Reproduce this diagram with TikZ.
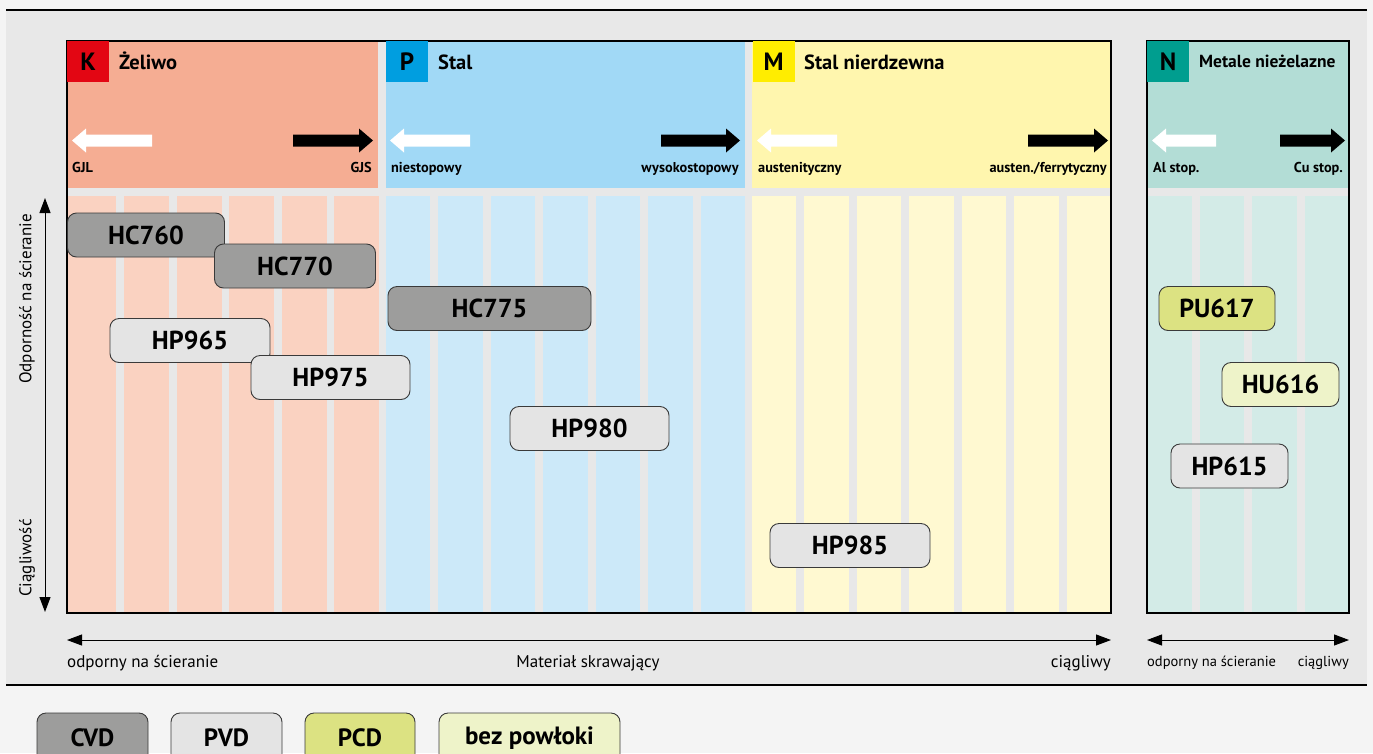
\documentclass[tikz,border=0pt]{standalone}
\usepackage{fontspec}
\setmainfont{PT Sans}
\usetikzlibrary{arrows.meta}
\definecolor{pagebg}{HTML}{F4F4F4}
\definecolor{panel}{HTML}{E8E8E8}
\definecolor{Khead}{HTML}{F5AD93}
\definecolor{Kstripe}{HTML}{FAD2C1}
\definecolor{Kred}{HTML}{E30613}
\definecolor{Phead}{HTML}{A1D9F6}
\definecolor{Pstripe}{HTML}{CCE9F9}
\definecolor{Pblue}{HTML}{009EE0}
\definecolor{Mhead}{HTML}{FFF6AE}
\definecolor{Mstripe}{HTML}{FFF9D1}
\definecolor{Myellow}{HTML}{FFED00}
\definecolor{Nhead}{HTML}{B3DDD6}
\definecolor{Nstripe}{HTML}{D3EBE7}
\definecolor{Nteal}{HTML}{009E8F}
\definecolor{cvdc}{HTML}{9D9D9C}
\definecolor{pvdc}{HTML}{E4E4E4}
\definecolor{pcdc}{HTML}{DCE282}
\definecolor{uncc}{HTML}{EEF3C9}
\definecolor{boxline}{HTML}{3A3A3A}
\newcommand\blkR[4]{\fill[#4] (#1,{#3-6}) -- ({#2-14},{#3-6}) -- ({#2-14},{#3-12}) -- (#2,#3) -- ({#2-14},{#3+12}) -- ({#2-14},{#3+6}) -- (#1,{#3+6}) -- cycle;}
\newcommand\blkL[4]{\fill[#4] (#2,{#3-6}) -- ({#1+14},{#3-6}) -- ({#1+14},{#3-12}) -- (#1,#3) -- ({#1+14},{#3+12}) -- ({#1+14},{#3+6}) -- (#2,{#3+6}) -- cycle;}
\newcommand\stripes[6]{% x1, x2, n, color, ytop, ybot
  \pgfmathsetmacro\sw{(#2-#1-(#3-1)*8)/#3}
  \foreach \i in {1,...,#3}{\fill[#4] ({#1+(\i-1)*(\sw+8)},#5) rectangle ({#1+(\i-1)*(\sw+8)+\sw},#6);}
}
\tikzset{
  prod/.style={draw=boxline, line width=0.9pt, rounded corners=9pt, minimum height=44pt, inner sep=0pt, font=\fontsize{26}{26}\selectfont\bfseries},
  cvd/.style={prod, fill=cvdc},
  pvd/.style={prod, fill=pvdc},
  pcd/.style={prod, fill=pcdc},
  unc/.style={prod, fill=uncc},
  leg/.style={draw=boxline, line width=0.9pt, rounded corners=9pt, minimum height=50pt, inner sep=0pt, font=\fontsize{25}{25}\selectfont\bfseries},
  letter/.style={minimum width=42pt, minimum height=41pt, inner sep=0pt, font=\fontsize{25}{25}\selectfont\bfseries},
  title/.style={anchor=base west, inner sep=0pt, font=\fontsize{20.5}{20.5}\selectfont\bfseries},
  sublab/.style={inner sep=0pt, font=\fontsize{14.3}{14.3}\selectfont\bfseries},
  axislab/.style={inner sep=0pt, font=\fontsize{17}{17}\selectfont},
  smalllab/.style={inner sep=0pt, font=\fontsize{14.5}{14.5}\selectfont},
  axarrow/.style={line width=1pt, {Triangle[length=15pt,width=11pt]}-{Triangle[length=15pt,width=11pt]}},
}
\begin{document}
\begin{tikzpicture}[x=1pt,y=-1pt]
\useasboundingbox (0,0) rectangle (1373,753);
\clip (0,0) rectangle (1373,753);
\fill[pagebg] (0,0) rectangle (1373,753);
\fill[panel] (6,10) rectangle (1367,685);
% headers
\fill[Khead] (67,41) rectangle (378,188);
\fill[Phead] (386,41) rectangle (745,188);
\fill[Mhead] (752,41) rectangle (1111,188);
\fill[Nhead] (1147,41) rectangle (1349,188);
% stripes
\fill[Kstripe] (67,196) rectangle (116,613);
\foreach \xa in {124,176.5,229,281.5,334}{\fill[Kstripe] (\xa,196) rectangle ({\xa+45},613);}
\stripes{386}{745}{7}{Pstripe}{196}{613}
\stripes{752}{1111}{7}{Mstripe}{196}{613}
\stripes{1147}{1349}{4}{Nstripe}{196}{613}
% frames
\draw[line width=1.2pt] (67,41) rectangle (1111,613);
\draw[line width=1.2pt] (1147,41) rectangle (1349,613);
% top and bottom rules
\draw[line width=2.5pt] (6,10) -- (1367,10);
\draw[line width=2.5pt] (6,685) -- (1367,685);
% letters
\node[letter, fill=Kred, text=black] (Kl) at (88,61.5) {K};
\node[letter, fill=Pblue] (Pl) at (407,61.5) {P};
\node[letter, fill=Myellow] (Ml) at (773.5,61.5) {M};
\node[letter, fill=Nteal] (Nl) at (1168,61.5) {N};
\node[title] (Kt) at (119,69) {Żeliwo};
\node[title] (Pt) at (438,69) {Stal};
\node[title] (Mt) at (804,69) {Stal nierdzewna};
\node[title, font=\fontsize{17.5}{17.5}\selectfont\bfseries] (Nt) at (1199,67.5) {Metale nieżelazne};
% header arrows
\blkL{72}{152}{140.5}{white}
\blkR{293}{373}{140.5}{black}
\blkL{390}{470}{140.5}{white}
\blkR{661}{740}{140.5}{black}
\blkL{757}{837}{140.5}{white}
\blkR{1028}{1108}{140.5}{black}
\blkL{1152}{1216}{140.5}{white}
\blkR{1280}{1345}{140.5}{black}
% header arrow labels
\node[sublab, anchor=base west] (gjl) at (72,172) {GJL};
\node[sublab, anchor=base east] (gjs) at (372,172) {GJS};
\node[sublab, anchor=base west] (nst) at (391,172) {niestopowy};
\node[sublab, anchor=base east] (wys) at (739,172) {wysokostopowy};
\node[sublab, anchor=base west] (aus) at (758,172) {austenityczny};
\node[sublab, anchor=base east] (af) at (1107,172) {austen./ferrytyczny};
\node[sublab, anchor=base west] (al) at (1153,172) {Al stop.};
\node[sublab, anchor=base east] (cu) at (1343,172) {Cu stop.};
% products
\node[cvd, minimum width=157pt] (hc760) at (146,235) {HC760};
\node[cvd, minimum width=161pt] (hc770) at (295,266) {HC770};
\node[cvd, minimum width=203pt] (hc775) at (489.5,308.5) {HC775};
\node[pvd, minimum width=160pt] (hp965) at (190,340.5) {HP965};
\node[pvd, minimum width=159pt] (hp975) at (330.5,377.5) {HP975};
\node[pvd, minimum width=159pt] (hp980) at (589.5,428.5) {HP980};
\node[pvd, minimum width=160pt] (hp985) at (850,545.5) {HP985};
\node[pcd, minimum width=116pt] (pu617) at (1217,308.5) {PU617};
\node[unc, minimum width=117pt] (hu616) at (1280.5,384.5) {HU616};
\node[pvd, minimum width=117pt] (hp615) at (1229.5,466) {HP615};
% vertical axis
\coordinate (vtop) at (45,198);
\coordinate (vbot) at (45,612);
\draw[axarrow] (vbot) -- (vtop);
\node[axislab, rotate=90] (odp) at (27,299) {Odporność na ścieranie};
\node[axislab, rotate=90] (ciag) at (27,558) {Ciągliwość};
% horizontal axes
\coordinate (hl) at (67,640);
\coordinate (hr) at (1111,640);
\draw[axarrow] (hl) -- (hr);
\coordinate (nl) at (1147,640);
\coordinate (nr) at (1349,640);
\draw[axarrow] (nl) -- (nr);
\node[axislab, anchor=base west] (l1) at (67,667) {odporny na ścieranie};
\node[axislab, anchor=base] (l2) at (588,667) {Materiał skrawający};
\node[axislab, anchor=base east] (l3) at (1111,667) {ciągliwy};
\node[smalllab, anchor=base west] (l4) at (1147,666) {odporny na ścieranie};
\node[smalllab, anchor=base east] (l5) at (1349,666) {ciągliwy};
% legend
\node[leg, fill=cvdc, minimum width=111pt] (lcvd) at (92.5,738) {CVD};
\node[leg, fill=pvdc, minimum width=111pt] (lpvd) at (226.5,738) {PVD};
\node[leg, fill=pcdc, minimum width=110pt] (lpcd) at (360,738) {PCD};
\node[leg, fill=uncc, minimum width=181pt] (lunc) at (529.5,738) {bez powłoki};
\end{tikzpicture}
\end{document}
